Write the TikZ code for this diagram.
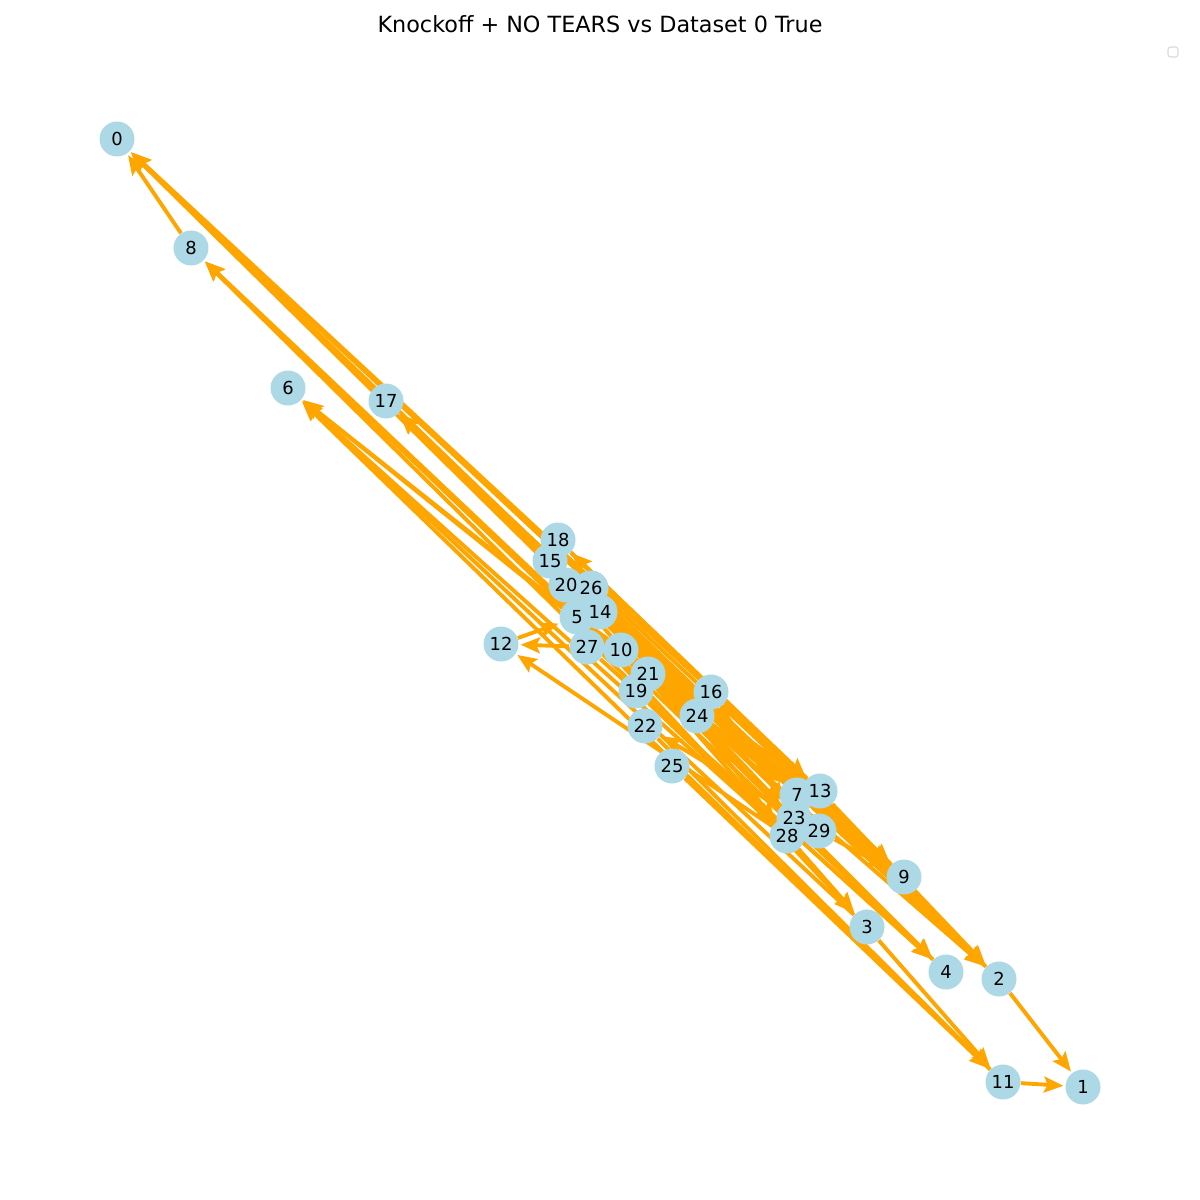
\documentclass[tikz,border=0pt]{standalone}
\usepackage{fontspec}
\setmainfont{DejaVu Sans}
\usetikzlibrary{arrows.meta,backgrounds}
\definecolor{nodeblue}{HTML}{ADD8E6}
\definecolor{edgeorange}{HTML}{FFA500}
\tikzset{
  vert/.style={circle,fill=nodeblue,minimum size=0.7cm,inner sep=0pt},
  vlabel/.style={inner sep=0pt,font=\fontsize{10.2}{11}\selectfont},
  edge/.style={draw=edgeorange,line width=2.2pt,-{Stealth[length=11pt,width=9pt,inset=2pt]},shorten >=1pt},
}
\begin{document}
\begin{tikzpicture}[x=0.02cm,y=-0.02cm]
\useasboundingbox (0,0) rectangle (1200,1200);
\node[font=\fontsize{12.7}{14}\selectfont] (title) at (600,24) {Knockoff + NO TEARS vs Dataset 0 True};
\draw[draw=black!15,line width=0.6pt,rounded corners=1.5pt] (1168,47) rectangle (1178,57);
\foreach \i/\x/\y in {0/117/139,8/191/248,6/288/388,17/386/401,18/558/540,15/550/561,
  20/566/585,26/591/588,5/577/617,14/600/612,12/501/644,27/587/647,10/621/650,
  21/648/674,19/636/691,16/711/692,24/697/716,22/645/726,25/672/766,7/797/795,
  13/820/791,23/794/818,28/787/836,29/819/831,9/904/877,3/867/927,4/946/972,
  2/999/979,11/1003/1082,1/1083/1087}
  \node[vert] (n\i) at (\x,\y) {};
\foreach \i/\x/\y in {0/117/139,8/191/248,6/288/388,17/386/401,18/558/540,15/550/561,
  20/566/585,26/591/588,5/577/617,14/600/612,12/501/644,27/587/647,10/621/650,
  21/648/674,19/636/691,16/711/692,24/697/716,22/645/726,25/672/766,7/797/795,
  13/820/791,23/794/818,28/787/836,29/819/831,9/904/877,3/867/927,4/946/972,
  2/999/979,11/1003/1082,1/1083/1087}
  \node[vlabel] (l\i) at (\x,\y) {\i};
\begin{pgfonlayer}{background}
\foreach \s/\t in {8/0,13/0,7/0,29/0,9/0,
  23/8,4/8,28/8,
  9/6,24/6,3/6,28/6,11/6,
  7/17,29/17,2/17,
  9/18,13/18,
  27/12,28/12,12/5,
  15/7,20/7,26/7,10/7,
  18/9,5/9,14/9,29/9,16/9,
  28/3,20/3,5/3,
  21/4,19/4,10/4,27/4,
  14/2,26/2,16/2,13/2,24/2,
  3/11,25/11,22/11,
  2/1,11/1,
  29/22,15/23,18/13,20/29,26/28,5/13,14/29,21/23,19/28,24/13,16/23}
  \draw[edge] (n\s) -- (n\t);
\end{pgfonlayer}
\end{tikzpicture}
\end{document}
